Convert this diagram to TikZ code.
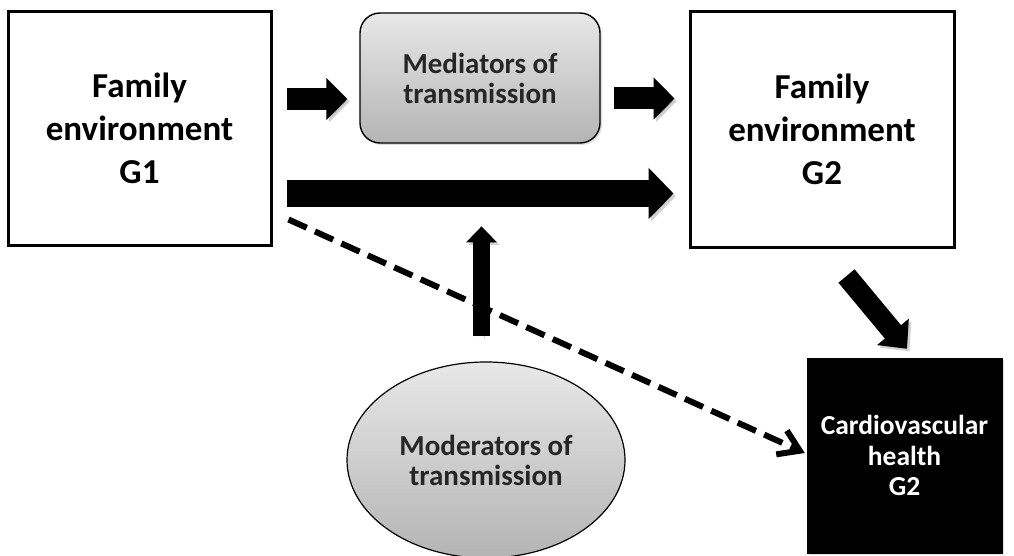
\documentclass[tikz,border=0pt]{standalone}
\usepackage{fontspec}
\setmainfont{Carlito}
\usetikzlibrary{arrows.meta,shapes.geometric,calc,shadows}
\definecolor{gtop}{HTML}{E8E8E8}
\definecolor{gbot}{HTML}{B4B4B4}
\definecolor{dtext}{HTML}{262626}
\begin{document}
\begin{tikzpicture}[x=1pt,y=-1pt,
  famenv/.style={draw=black, line width=3pt, fill=white, inner sep=0pt,
    minimum width=263pt, align=center,
    font=\fontsize{35}{43}\selectfont\bfseries,
    drop shadow={shadow xshift=2pt, shadow yshift=-2pt, opacity=0.25}},
  medbox/.style={draw=black, line width=1.4pt, rounded corners=20pt, inner sep=0pt,
    minimum width=240pt, minimum height=130pt, align=center,
    top color=gtop, bottom color=gbot, text=dtext,
    font=\fontsize{29}{30}\selectfont\bfseries,
    drop shadow={shadow xshift=2pt, shadow yshift=-2pt, opacity=0.25}},
  modell/.style={ellipse, draw=black, line width=1.2pt, inner sep=0pt,
    minimum width=278pt, minimum height=196pt, align=center,
    top color=gtop, bottom color=gbot, text=dtext,
    font=\fontsize{29}{30}\selectfont\bfseries},
  cardbox/.style={fill=black, draw=black, inner sep=0pt,
    minimum width=195pt, minimum height=195pt, align=center, text=white,
    font=\fontsize{27.5}{30.5}\selectfont\bfseries,
    drop shadow={shadow xshift=2pt, shadow yshift=-2pt, opacity=0.25}},
  arrshadow/.style={preaction={draw=black, opacity=0.18,
    transform canvas={xshift=2.5pt,yshift=-2.5pt}}},
  fatsmall/.style={arrshadow, line width=22pt, -{Triangle[length=21pt,width=41pt]}},
  fatlong/.style={arrshadow, line width=27pt, -{Triangle[length=25pt,width=50pt]}},
  fatup/.style={arrshadow, line width=17pt, -{Triangle[length=16pt,width=30pt]}},
  fatdiag/.style={arrshadow, line width=21pt, -{Triangle[length=22pt,width=40pt]}},
  dashlink/.style={line width=6pt, dash pattern=on 20pt off 9pt,
    -{Straight Barb[length=20pt,width=26pt,line width=6pt]}}
]
\useasboundingbox (0,0) rectangle (1014,556);

\node[famenv, minimum height=233pt] (g1) at (139.5,128.5) {Family\\environment\\G1};
\node[famenv, minimum height=235pt, minimum width=264pt] (g2) at (822,129.5) {Family\\environment\\G2};
\node[medbox] (med) at (480,78) {Mediators of\\transmission};
\node[modell] (mod) at (486,460) {Moderators of\\transmission};
\node[cardbox] (card) at (904.5,455.5) {Cardiovascular\\health\\G2};

\draw[fatsmall] ($(g1.east)+(14,-29.5)$) -- ($(med.west)+(-12,21)$);
\draw[fatsmall] ($(med.east)+(13,20.5)$) -- ($(g2.west)+(-14,-31)$);
\draw[fatlong] ($(g1.east)+(14,65)$) -- ($(g2.west)+(-15,64)$);
\draw[dashlink] ($(g1.south east)+(16,-27)$) -- ($(card.west)+(-2,-2.5)$);
\draw[fatup] ($(mod.north)+(-4.5,-25)$) -- ($(mod.north)+(-4.5,-135)$);
\draw[fatdiag] ($(g2.south)+(24.5,27.5)$) -- ($(card.north)+(2.5,-9)$);
\end{tikzpicture}
\end{document}
